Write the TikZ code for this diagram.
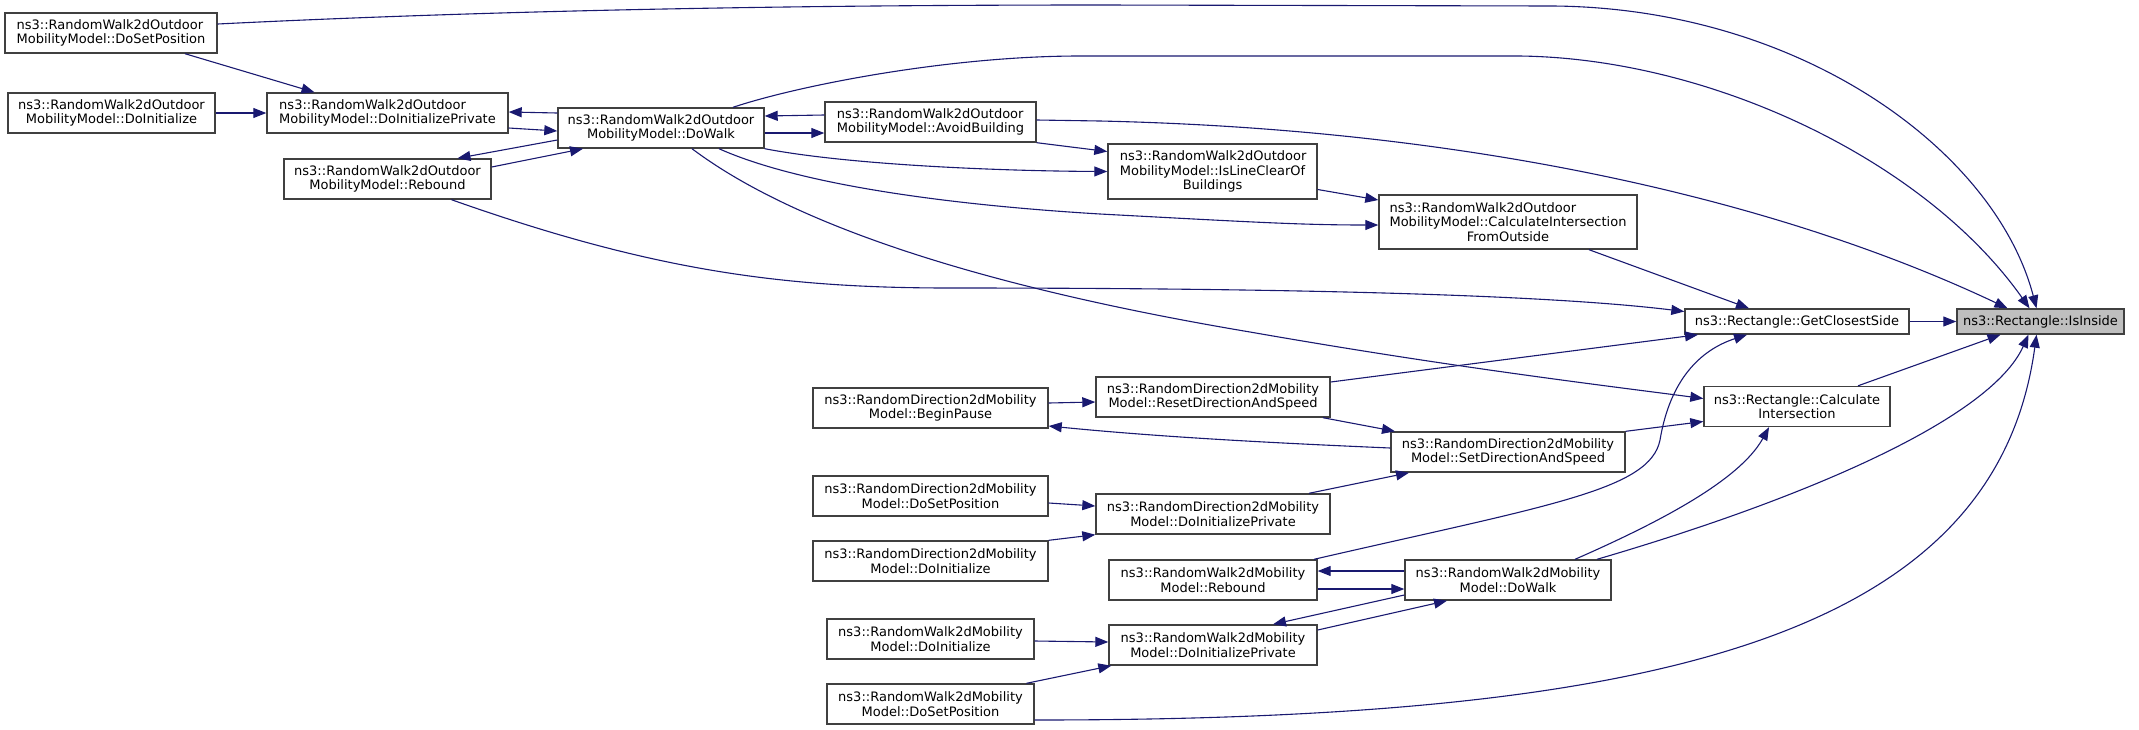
\documentclass[tikz,border=0pt]{standalone}
\usepackage{fontspec}
\setmainfont{DejaVu Sans}
\usetikzlibrary{arrows.meta}

\definecolor{edgeblue}{HTML}{191970}
\definecolor{boxgray}{HTML}{404040}
\definecolor{hitgray}{HTML}{BFBFBF}

% first line left, the rest centred
\newcommand{\lfirst}[2]{\rlap{#1}\phantom{#2}\\#2}

\begin{document}
\begin{tikzpicture}[x=1pt, y=-1pt,
    fn/.style={draw=boxgray, line width=1.4pt, fill=white, align=center,
      inner sep=0pt, minimum height=40,
      font=\fontsize{13pt}{14.3pt}\selectfont},
    call/.style={draw=edgeblue, line width=1.1pt,
      -{Triangle[length=13pt,width=10pt]}}]
    \useasboundingbox (0,0) rectangle (2139,729);

    % Outdoor model callers
    \node[fn, minimum width=212] (odSetPos) at (111,33) {\lfirst{ns3::RandomWalk2dOutdoor}{MobilityModel::DoSetPosition}};
    \node[fn, minimum width=207] (odInit) at (111.5,113) {ns3::RandomWalk2dOutdoor\\MobilityModel::DoInitialize};
    \node[fn, minimum width=241] (odInitPriv) at (387.5,113) {\lfirst{ns3::RandomWalk2dOutdoor}{MobilityModel::DoInitializePrivate}};
    \node[fn, minimum width=207] (odRebound) at (387.5,179) {ns3::RandomWalk2dOutdoor\\MobilityModel::Rebound};
    \node[fn, minimum width=206] (odDoWalk) at (661,128) {ns3::RandomWalk2dOutdoor\\MobilityModel::DoWalk};
    \node[fn, minimum width=211] (odAvoid) at (930.5,122) {\lfirst{ns3::RandomWalk2dOutdoor}{MobilityModel::AvoidBuilding}};
    \node[fn, minimum width=209, minimum height=55] (odLineClear) at (1212.5,171.5) {\lfirst{ns3::RandomWalk2dOutdoor}{MobilityModel::IsLineClearOf}\\Buildings};
    \node[fn, minimum width=258, minimum height=54] (odCalcOut) at (1508,222) {\lfirst{ns3::RandomWalk2dOutdoor}{MobilityModel::CalculateIntersection}\\FromOutside};

    % Rectangle
    \node[fn, minimum width=224, minimum height=25] (getClosest) at (1797,321.5) {ns3::Rectangle::GetClosestSide};
    \node[fn, minimum width=167, minimum height=25, fill=hitgray] (isInside) at (2040.5,321.5) {ns3::Rectangle::IsInside};
    \node[fn, minimum width=186] (calcInter) at (1797,406.5) {ns3::Rectangle::Calculate\\Intersection};

    % RandomDirection2d callers
    \node[fn, minimum width=235] (rdBegin) at (930.5,408) {ns3::RandomDirection2dMobility\\Model::BeginPause};
    \node[fn, minimum width=234] (rdReset) at (1213,397) {ns3::RandomDirection2dMobility\\Model::ResetDirectionAndSpeed};
    \node[fn, minimum width=234] (rdSetDir) at (1508,452) {ns3::RandomDirection2dMobility\\Model::SetDirectionAndSpeed};
    \node[fn, minimum width=235] (rdSetPos) at (930.5,496) {ns3::RandomDirection2dMobility\\Model::DoSetPosition};
    \node[fn, minimum width=234] (rdInitPriv) at (1213,514) {ns3::RandomDirection2dMobility\\Model::DoInitializePrivate};
    \node[fn, minimum width=235] (rdInit) at (930.5,561) {ns3::RandomDirection2dMobility\\Model::DoInitialize};

    % RandomWalk2d callers
    \node[fn, minimum width=208] (rwRebound) at (1213,580) {ns3::RandomWalk2dMobility\\Model::Rebound};
    \node[fn, minimum width=206] (rwDoWalk) at (1508,580) {ns3::RandomWalk2dMobility\\Model::DoWalk};
    \node[fn, minimum width=207] (rwInit) at (930.5,639) {ns3::RandomWalk2dMobility\\Model::DoInitialize};
    \node[fn, minimum width=208] (rwInitPriv) at (1213,645) {ns3::RandomWalk2dMobility\\Model::DoInitializePrivate};
    \node[fn, minimum width=207] (rwSetPos) at (930.5,704) {ns3::RandomWalk2dMobility\\Model::DoSetPosition};

    % Calls of IsInside
    \draw[call] ([yshift=9]odSetPos.east) .. controls (500,10) and (800,5) .. (1100,5) -- (1553,6) .. controls (1800,8) and (1995,150) .. ([xshift=-4]isInside.north);
    \draw[call] ([xshift=72]odDoWalk.north) .. controls (800,85) and (950,56) .. (1080,56) -- (1519,56) .. controls (1710,58) and (1925,160) .. ([xshift=-11]isInside.north);
    \draw[call] ([yshift=2]odAvoid.east) -- (1100,121) .. controls (1500,130) and (1800,210) .. ([xshift=-33]isInside.north);
    \draw[call] (getClosest) -- (isInside);
    \draw[call] ([xshift=61]calcInter.north) -- ([xshift=-40]isInside.south);
    \draw[call] ([xshift=89]rwDoWalk.north) .. controls (1800,500) and (1990,420) .. ([xshift=-12]isInside.south);
    \draw[call] ([yshift=-16]rwSetPos.east) .. controls (1650,720) and (1995,640) .. ([xshift=-4]isInside.south);

    % Calls of GetClosestSide
    \draw[call] ([xshift=81]odCalcOut.south) -- ([xshift=-48]getClosest.north);
    \draw[call] ([xshift=64]odRebound.south) .. controls (650,270) and (780,288) .. (950,288) .. controls (1300,288) and (1550,295) .. ([yshift=10]getClosest.west);
    \draw[call] ([yshift=15]rdReset.east) -- ([xshift=-99]getClosest.south);
    \draw[call] ([xshift=101]rwRebound.north) .. controls (1550,505) and (1650,490) .. (1660,440) .. controls (1670,380) and (1700,350) .. ([xshift=-50]getClosest.south);

    % Calls of CalculateIntersection
    \draw[call] ([xshift=31]odDoWalk.south) .. controls (800,230) and (1000,290) .. (1250,332) .. controls (1450,367) and (1600,385) .. ([yshift=8]calcInter.west);
    \draw[call] (rdSetDir.north east) -- ([yshift=-15]calcInter.west);
    \draw[call] ([xshift=67]rwDoWalk.north) .. controls (1660,522) and (1740,480) .. ([xshift=-28]calcInter.south);

    % Outdoor model calls
    \draw[call] ([yshift=-18]odLineClear.east) -- ([yshift=22]odCalcOut.west);
    \draw[call] ([xshift=58]odDoWalk.south) .. controls (800,185) and (950,205) .. (1100,214) .. controls (1250,222) and (1300,225) .. ([yshift=-3]odCalcOut.west);
    \draw[call] (odAvoid.south east) -- ([yshift=20]odLineClear.west);
    \draw[call] (odDoWalk.south east) .. controls (850,165) and (1000,171) .. (odLineClear.west);
    \draw[call] ([yshift=-5]odDoWalk.east) -- ([yshift=-11]odAvoid.west);
    \draw[call] ([yshift=7]odAvoid.west) -- ([yshift=12]odDoWalk.east);
    \draw[call] ([yshift=-15]odInitPriv.east) -- ([yshift=-3]odDoWalk.west);
    \draw[call] ([yshift=15]odDoWalk.west) -- ([yshift=1]odInitPriv.east);
    \draw[call] ([yshift=-12]odDoWalk.west) -- ([xshift=70]odRebound.north);
    \draw[call] ([yshift=12]odRebound.east) -- ([xshift=-78]odDoWalk.south);
    \draw[call] (odInit) -- (odInitPriv);
    \draw[call] ([xshift=74]odSetPos.south) -- ([xshift=-73]odInitPriv.north);

    % RandomDirection2d calls
    \draw[call] ([yshift=4]rdSetDir.west) .. controls (1250,442) and (1150,436) .. ([yshift=-18]rdBegin.east);
    \draw[call] ([yshift=5]rdBegin.east) -- ([yshift=-5]rdReset.west);
    \draw[call] ([xshift=110]rdReset.south) -- ([xshift=-113]rdSetDir.north);
    \draw[call] ([xshift=96]rdInitPriv.north) -- ([xshift=-99]rdSetDir.south);
    \draw[call] ([yshift=-7]rdSetPos.east) -- ([yshift=8]rdInitPriv.west);
    \draw[call] (rdInit.north east) -- (rdInitPriv.south west);

    % RandomWalk2d calls
    \draw[call] ([yshift=9]rwDoWalk.west) -- ([yshift=9]rwRebound.east);
    \draw[call] ([yshift=-9]rwRebound.east) -- ([yshift=-9]rwDoWalk.west);
    \draw[call] ([yshift=15]rwInitPriv.east) -- ([xshift=-61]rwDoWalk.south);
    \draw[call] ([yshift=-15]rwDoWalk.west) -- ([xshift=60]rwInitPriv.north);
    \draw[call] ([yshift=-2]rwInit.east) -- ([yshift=3]rwInitPriv.west);
    \draw[call] ([xshift=96]rwSetPos.north) -- ([xshift=3]rwInitPriv.south west);
\end{tikzpicture}
\end{document}
